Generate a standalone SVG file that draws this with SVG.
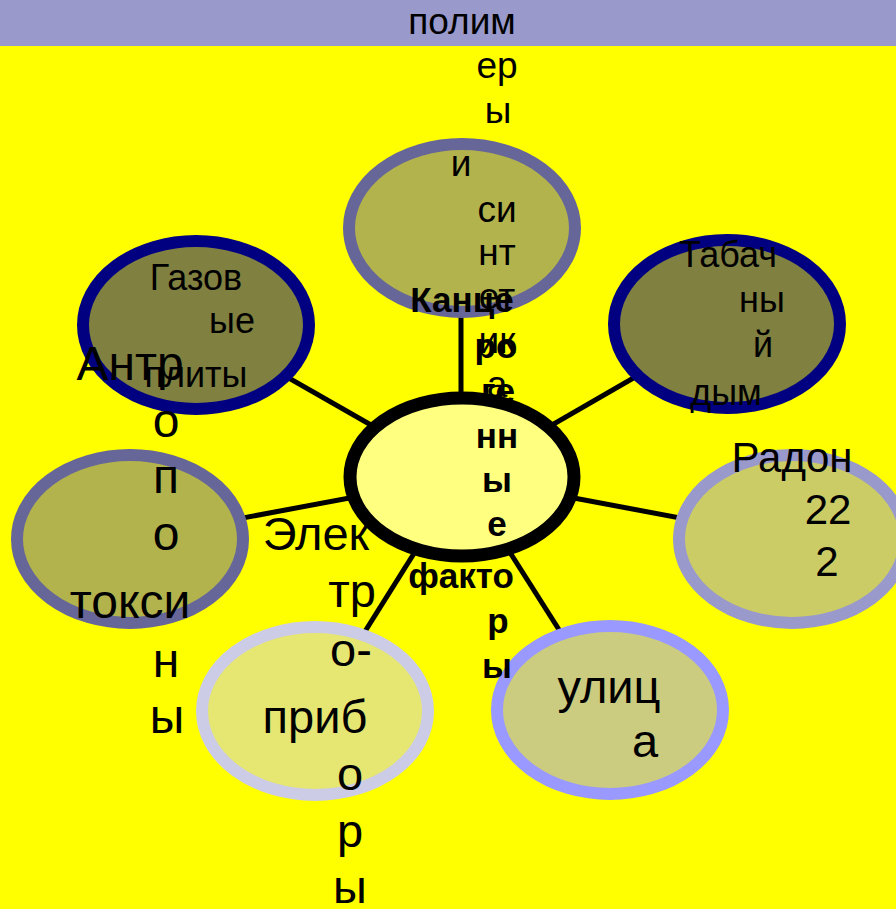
<svg xmlns="http://www.w3.org/2000/svg" width="896" height="909" viewBox="0 0 896 909">
<style>
text{font-family:"Liberation Sans",Arial,sans-serif;fill:#000;text-anchor:middle}
.t37{font-size:37px}.t36{font-size:36px}.t42{font-size:42px}.t47{font-size:47px}.t48{font-size:48px}
.b35{font-size:35px;font-weight:bold}
.conn line{stroke:#000;stroke-width:5}
.n ellipse{stroke-width:12}
</style>
<rect x="0" y="0" width="896" height="909" fill="#FFFF00"/>
<rect x="0" y="0" width="896" height="46" fill="#9999CC"/>
<g id="connectors" class="conn">
<line x1="461" y1="477" x2="461" y2="228"/>
<line x1="462" y1="477" x2="196" y2="325"/>
<line x1="462" y1="477" x2="727" y2="324"/>
<line x1="462" y1="477" x2="130" y2="539"/>
<line x1="462" y1="477" x2="792" y2="539"/>
<line x1="462" y1="477" x2="315" y2="711"/>
<line x1="462" y1="477" x2="610" y2="710"/>
</g>
<g id="node-gas" class="n">
<ellipse cx="196" cy="325" rx="113" ry="84" fill="#808040" stroke="#000080"/>
<text class="t36" x="196" y="290">Газов</text>
<text class="t36" x="232" y="333">ые</text>
<text class="t36" x="196" y="387">плиты</text>
</g>
<g id="node-tobacco" class="n">
<ellipse cx="727" cy="324" rx="113" ry="84" fill="#808040" stroke="#000080"/>
<text class="t36" x="728" y="267">Табач</text>
<text class="t36" x="762" y="312">ны</text>
<text class="t36" x="763" y="357">й</text>
<text class="t36" x="726" y="405">дым</text>
</g>
<g id="node-radon" class="n">
<ellipse cx="792" cy="539" rx="113" ry="84" fill="#CCCC66" stroke="#9999CC"/>
<text class="t42" x="792" y="472">Радон</text>
<text class="t42" x="828" y="524">22</text>
<text class="t42" x="827" y="576">2</text>
</g>
<g id="node-street" class="n">
<ellipse cx="610" cy="710" rx="113" ry="84" fill="#CCCC80" stroke="#9999FF"/>
<text class="t47" x="609" y="703">улиц</text>
<text class="t47" x="645" y="757">а</text>
</g>
<g id="node-electro" class="n">
<ellipse cx="315" cy="711" rx="113" ry="84" fill="#E6E673" stroke="#CCCCE6"/>
<text class="t47" x="316" y="550">Элек</text>
<text class="t47" x="352" y="607">тр</text>
<text class="t47" x="351" y="666">о-</text>
<text class="t47" x="315" y="733">приб</text>
<text class="t47" x="350" y="790">о</text>
<text class="t47" x="350" y="847">р</text>
<text class="t47" x="350" y="903">ы</text>
</g>
<g id="node-polymers" class="n">
<ellipse cx="462" cy="228" rx="113" ry="84" fill="#B3B34D" stroke="#666699"/>
<text class="t37" x="462" y="34">полим</text>
<text class="t37" x="497" y="78">ер</text>
<text class="t37" x="498" y="123">ы</text>
<text class="t37" x="461" y="176">и</text>
<text class="t37" x="497" y="222">си</text>
<text class="t37" x="497" y="265">нт</text>
<text class="t37" x="497" y="309">ет</text>
<text class="t37" x="497" y="353">ик</text>
<text class="t37" x="497" y="397">а</text>
</g>
<g id="node-center" class="n">
<ellipse cx="462" cy="477" rx="112" ry="79" fill="#FFFF80" stroke="#000" stroke-width="13" style="stroke-width:13"/>
<text class="b35" x="462" y="312">Канце</text>
<text class="b35" x="496" y="358">ро</text>
<text class="b35" x="498" y="403">ге</text>
<text class="b35" x="497" y="448">нн</text>
<text class="b35" x="497" y="492">ы</text>
<text class="b35" x="497" y="536">е</text>
<text class="b35" x="461" y="588">факто</text>
<text class="b35" x="498" y="633">р</text>
<text class="b35" x="497" y="678">ы</text>
</g>
<g id="node-anthropotoxins" class="n">
<ellipse cx="130" cy="539" rx="113" ry="84" fill="#B3B34D" stroke="#666699"/>
<text class="t48" x="130" y="380">Антр</text>
<text class="t48" x="166" y="437">о</text>
<text class="t48" x="166" y="493">п</text>
<text class="t48" x="166" y="550">о</text>
<text class="t48" x="130" y="618">токси</text>
<text class="t48" x="166" y="677">н</text>
<text class="t48" x="167" y="733">ы</text>
</g>
</svg>
